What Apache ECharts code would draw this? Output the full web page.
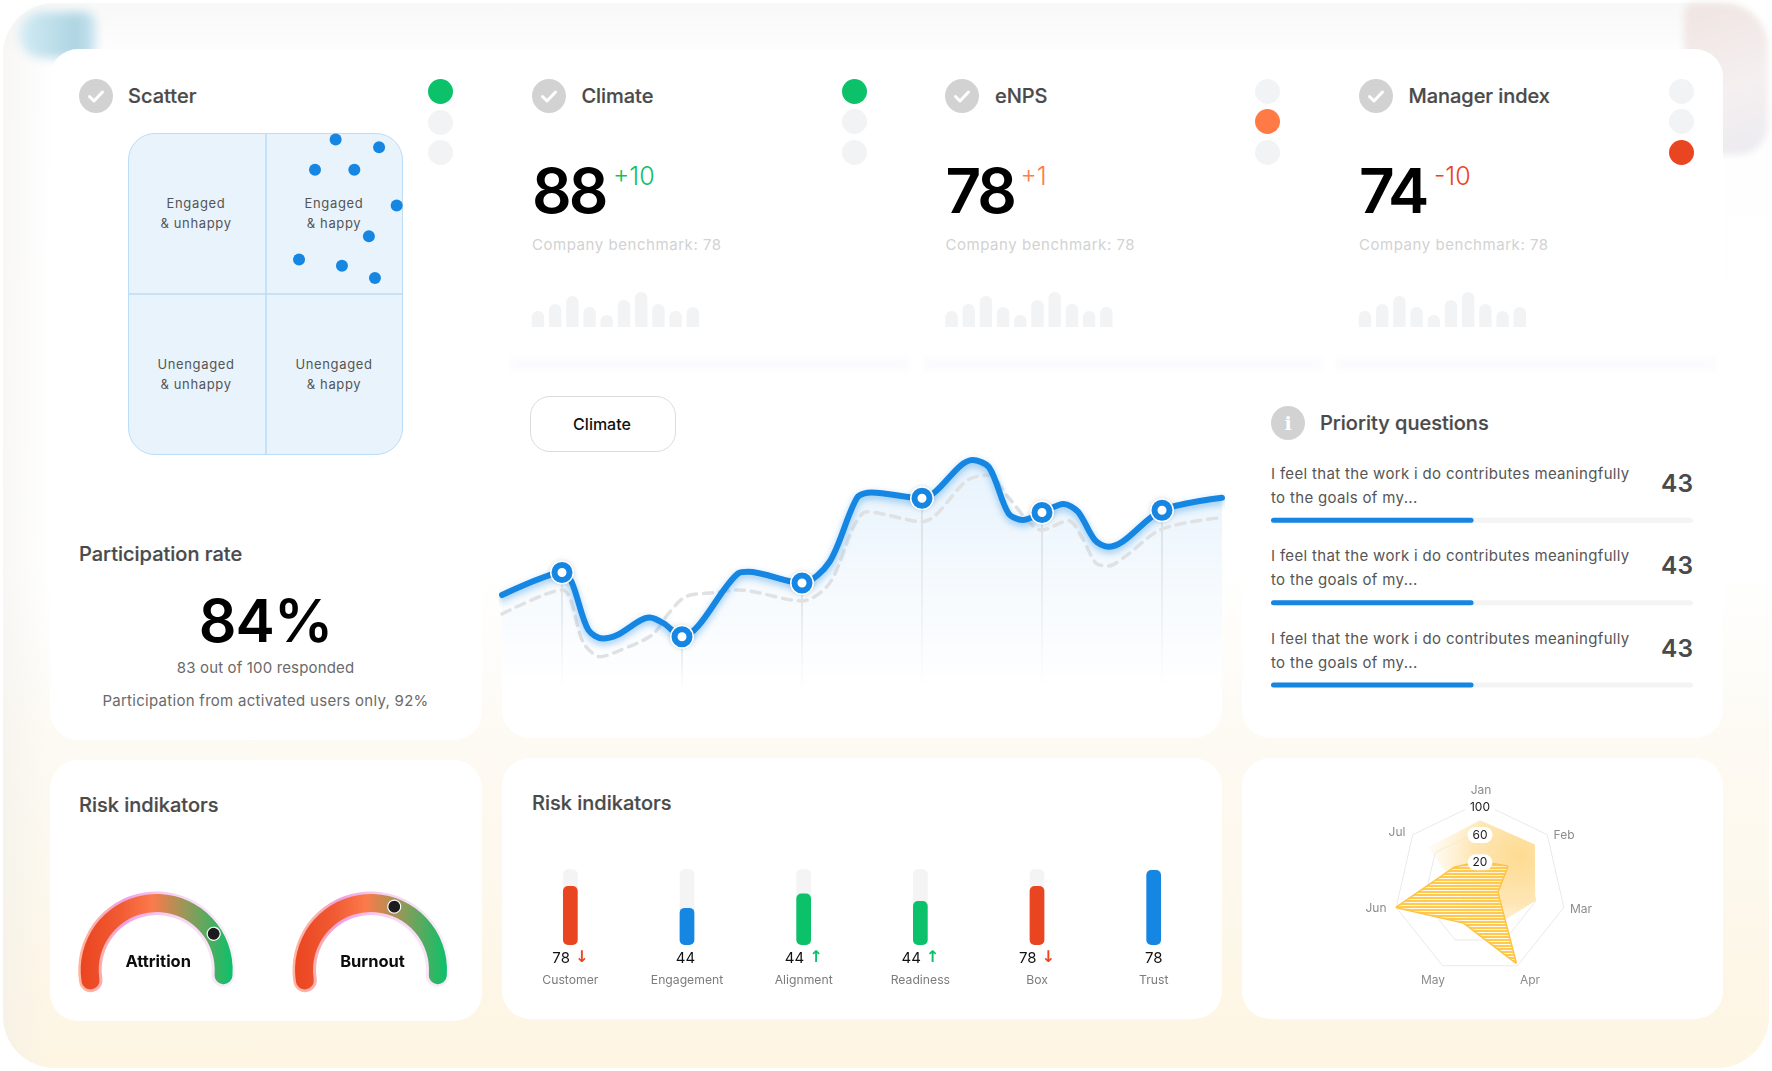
<!DOCTYPE html>
<html>
<head>
<meta charset="utf-8">
<title>Dashboard</title>
<script src="https://cdn.jsdelivr.net/npm/echarts@6/dist/echarts.min.js"></script>
<style>
html, body { margin: 0; padding: 0; background: #fff; }
#page { position: relative; width: 1772px; height: 1071px; overflow: hidden; font-family: Inter, sans-serif; }
#page div { position: absolute; box-sizing: border-box; }
.bg { left: 3px; top: 3px; width: 1766px; height: 1065px; border-radius: 52px; overflow: hidden;
  background:
    linear-gradient(90deg, rgba(238,236,232,0.4) 0, rgba(255,255,255,0) 46px),
    linear-gradient(180deg, #f8f8f8 0, #fefefe 55px, #fff 560px, #fdfaf3 745px, #fdf8ec 900px, #fef5e2 1065px); }
.card { background: #fff; border-radius: 28px; }
.quad { left: 128px; top: 133px; width: 275px; height: 322px; background: #e8f3fc; border: 1px solid #bbddf8; border-radius: 27px; }
.band { top: 358px; width: 400px; height: 12px; background: #fbfbfe; filter: blur(3px); }
.t { white-space: nowrap; line-height: 1; }
.title { font-size: 20px; font-weight: 500; color: #4a4a4a; -webkit-text-stroke: 0.2px #4a4a4a; }
.body { font-size: 15px; color: #5c5c5c; letter-spacing: 0.15px; }
.quadtext { font-size: 13px; color: #555; letter-spacing: 0.65px; }
#chart { left: 0; top: 0; width: 1772px; height: 1071px; }
</style>
</head>
<body>
<div id="page">
  <div class="bg"></div>
  <div style="left:20px;top:12px;width:76px;height:46px;background:linear-gradient(90deg,#d2ebf4,#aed5e2 75%,#cfe6f2);filter:blur(5px);border-radius:22px 10px 10px 22px;"></div>
  <div style="left:1684px;top:3px;width:84px;height:152px;background:linear-gradient(160deg,#efe5e1,#f5eff0 55%,#ecebf0);filter:blur(3px);border-radius:10px 44px 30px 14px;"></div>
  <div class="card" style="left:50px;top:49px;width:1673px;height:360px;"></div>
  <div class="band" style="left:510px;"></div>
  <div class="band" style="left:923px;"></div>
  <div class="band" style="left:1336px;width:380px;"></div>
  <div class="card" style="left:50px;top:400px;width:432px;height:340px;"></div>
  <div class="card" style="left:502px;top:380px;width:720px;height:358px;"></div>
  <div class="card" style="left:1242px;top:380px;width:481px;height:358px;"></div>
  <div class="card" style="left:50px;top:760px;width:432px;height:261px;"></div>
  <div class="card" style="left:502px;top:758px;width:720px;height:261px;"></div>
  <div class="card" style="left:1242px;top:758px;width:481px;height:261px;"></div>
  <div class="quad"></div>
  <div id="labels"></div>
  <div id="chart"></div>
</div>

<script>
// scatter
const scatterX = [75.5, 91.3, 68, 82.3, 97.7, 87.6, 62.2, 77.8, 89.8]
const scatterY = [98, 95.6, 88.6, 88.6, 77.5, 67.9, 60.7, 58.8, 55]
const quadrantNames = [['Engaged', '& unhappy'], ['Engaged', '& happy'], ['Unengaged', '& unhappy'], ['Unengaged', '& happy']]

// top row
const kpiNames = ['Climate', 'eNPS', 'Manager index']
const kpiScores = [88, 78, 74]
const kpiDeltas = ['+10', '+1', '-10']
const kpiColors = ['#0bc16a', '#ff7a45', '#ea4521']
const sparkValues = [16, 23, 31, 20, 12, 27, 35, 23, 16, 20]

// climate line
const climateX = [0, 0.5, 0.72, 0.84, 0.96, 1.23, 1.35, 1.5, 1.97, 2.05, 2.5, 2.73, 2.96, 3.08, 3.5, 3.92, 4.06, 4.22, 4.34, 4.5, 4.68, 4.8, 4.94, 5.05, 5.17, 5.5, 6]
const climateY = [38, 47, 24, 20.6, 22, 29, 26.6, 21.3, 46.7, 47.3, 42.8, 51.3, 77, 79, 76.7, 92, 89, 70.7, 68, 71, 74.4, 71.3, 60, 57.3, 59.3, 71.9, 76.9]
const benchX = [0, 0.5, 0.68, 0.82, 0.94, 1.25, 1.39, 1.53, 1.77, 1.97, 2.5, 2.73, 2.93, 3.04, 3.5, 3.88, 4.06, 4.22, 4.5, 4.72, 4.83, 4.95, 5.05, 5.19, 5.5, 6]
const benchY = [30.4, 40, 18.7, 13.3, 15, 22, 30.7, 37.3, 39, 40, 35.6, 42.7, 65.3, 71.3, 67.3, 84, 86, 77, 64, 67.7, 61.3, 50.7, 49.6, 53.3, 64.4, 69]
const markerX = [0.5, 1.5, 2.5, 3.5, 4.5, 5.5]
const markerY = [47, 21.3, 42.8, 76.7, 71, 71.9]

// priority questions
const questionText = ['I feel that the work i do contributes meaningfully', 'to the goals of my...']
const questionScores = [43, 43, 43]
const questionFill = [48, 48, 48]

// gauges
const gaugeNames = ['Attrition', 'Burnout']
const gaugeValues = [80.9, 61.6]

// risk bars
const riskNames = ['Customer', 'Engagement', 'Alignment', 'Readiness', 'Box', 'Trust']
const riskBars = [78, 49, 68, 58, 78, 99]
const riskScores = [78, 44, 44, 44, 78, 78]
const riskTrend = ['down', 'none', 'up', 'up', 'down', '']
const riskColors = ['#ea4521', '#1686e3', '#0bc16a', '#0bc16a', '#ea4521', '#1686e3']

// radar, counter clockwise from the top
const radarMonths = ['Jan', 'Jul', 'Jun', 'May', 'Apr', 'Mar', 'Feb']
const radarFill = [75, 72, 8, 26, 36, 59, 78]
const radarHatch = [17, 26, 99, 33, 95, 5, 29]
const radarTicks = [100, 60, 20]
// where the month names sit, same order as radarMonths
const radarNamePos = [[1481, 790], [1397, 832], [1376, 908], [1433, 980], [1530, 980], [1581, 909], [1564, 835]]

const BLUE = '#1686e3'
const labels = document.getElementById('labels')

function addText(str, x, y, cls, css, center) {
  let el = document.createElement('div')
  el.className = 't ' + cls
  el.textContent = str
  el.style.cssText = `left:${x}px;top:${y}px;transform:translate(${center ? '-50%' : '0'},-50%);${css || ''}`
  labels.appendChild(el)
}

function addDot(x, y, color) {
  let el = document.createElement('div')
  el.style.cssText = `left:${x - 12.5}px;top:${y - 12.5}px;width:25px;height:25px;border-radius:50%;background:${color};`
  labels.appendChild(el)
}

function addIcon(x, y, inner) {
  let el = document.createElement('div')
  el.style.cssText = `left:${x - 17}px;top:${y - 17}px;width:34px;height:34px;border-radius:50%;background:#d2d2d2;`
  el.innerHTML = inner
  labels.appendChild(el)
}

const checkSvg = '<svg width="34" height="34" style="position:absolute;left:0;top:0"><path d="M10.5 17.5l4.5 4.5 8.5-9" fill="none" stroke="#fff" stroke-width="3" stroke-linecap="round" stroke-linejoin="round"/></svg>'

// scatter header
addIcon(96, 96, checkSvg)
addText('Scatter', 128, 96, 'title')
addDot(440, 91, '#0bc16a')
addDot(440, 122, '#f2f3f5')
addDot(440, 152.5, '#f2f3f5')
quadrantNames.forEach((n, i) => {
  let cx = i % 2 ? 334 : 196
  let cy = i < 2 ? 203 : 364
  addText(n[0], cx, cy, 'quadtext', '', true)
  addText(n[1], cx, cy + 20, 'quadtext', '', true)
})

// kpi columns
const deltaGap = [81, 75, 75]
kpiNames.forEach((name, i) => {
  let x = 532 + i * 413.5
  addIcon(x + 16.5, 96, checkSvg)
  addText(name, x + 49.5, 96, 'title', 'letter-spacing:-0.05px;')
  for (let d = 0; d < 3; d++) addDot(x + 322, 91 + d * 30.7, d === i ? kpiColors[i] : '#f2f3f5')
  addText(String(kpiScores[i]), x, 191, '', 'font-size:62px;font-weight:600;color:#000;letter-spacing:-3px;')
  addText(kpiDeltas[i], x + deltaGap[i], 176, '', `font-size:25px;font-weight:300;color:${kpiColors[i]};`)
  addText('Company benchmark: 78', x, 243.5, '', 'font-size:15px;color:#d2d2d2;letter-spacing:0.55px;')
})

// participation
addText('Participation rate', 79, 554, 'title')
addText('84%', 265.5, 620, '', 'font-size:59px;font-weight:600;color:#000;letter-spacing:-1px;', true)
addText('83 out of 100 responded', 265.5, 667, 'body', 'color:#6a6a6a;', true)
addText('Participation from activated users only, 92%', 265.5, 700, 'body', 'color:#6a6a6a;letter-spacing:0.28px;', true)

// climate button
let btn = document.createElement('div')
btn.style.cssText = 'left:530px;top:396px;width:146px;height:56px;border:1px solid #dcdcdc;border-radius:20px;background:#fff;'
labels.appendChild(btn)
addText('Climate', 602, 424, '', 'font-size:16px;font-weight:500;color:#111;', true)

// priority questions
addIcon(1288, 423, '<span style="position:absolute;left:0;top:0;width:34px;line-height:34px;text-align:center;color:#fff;font:700 19px/34px \'DejaVu Serif\',serif;">i</span>')
addText('Priority questions', 1320, 423, 'title')
questionScores.forEach((s, i) => {
  let dy = i * 82.4
  addText(questionText[0], 1271, 473 + dy, 'body', 'color:#565656;letter-spacing:0.33px;')
  addText(questionText[1], 1271, 497 + dy, 'body', 'color:#565656;letter-spacing:0.33px;')
  addText(String(s), 1693, 483 + dy, '', 'font-size:24.5px;font-weight:600;color:#4a4a4a;transform:translate(-100%,-50%);')
})

addText('Risk indikators', 79, 805, 'title')
addText('Risk indikators', 532, 803, 'title')

// bars of the three kpi columns share one look
let sparkGrids = kpiNames.map((n, i) => ({ left: 529.4 + i * 413.5, top: 291, width: 172, height: 36 }))
let sparkX = kpiNames.map((n, i) => ({ type: 'category', gridIndex: i, data: sparkValues.map((v, k) => k), show: false }))
let sparkY = kpiNames.map((n, i) => ({ type: 'value', gridIndex: i, min: 0, max: 36, show: false }))
let sparkSeries = kpiNames.map((n, i) => ({
  type: 'bar', xAxisIndex: i, yAxisIndex: i, barWidth: 12.4, data: sparkValues, silent: true,
  itemStyle: { color: '#f2f3f5', borderRadius: [6, 6, 0, 0] }
}))

// stripes of the radar area
let stripe = document.createElement('canvas')
stripe.width = 6
stripe.height = 3
let sc = stripe.getContext('2d')
sc.fillStyle = 'rgba(255,248,228,0.7)'
sc.fillRect(0, 0, 6, 3)
sc.fillStyle = '#ffc94f'
sc.fillRect(0, 0, 6, 2)

const grids = [
  ...sparkGrids,
  { left: 128, top: 133, width: 275, height: 322 },        // 3 scatter
  { left: 502, top: 440, width: 720, height: 250 },        // 4 climate
  { left: 1271, top: 479.1, width: 422, height: 247.2 },   // 5 questions
  { left: 512, top: 869.3, width: 700, height: 75.7 }      // 6 risk
]

const arrowRich = { v: { fontFamily: 'Inter', fontSize: 15, color: '#111', lineHeight: 24 },
  down: { fontFamily: 'DejaVu Sans', fontSize: 16, fontWeight: 'bold', color: '#ea4521', padding: [0, 0, 0, 5] },
  up: { fontFamily: 'DejaVu Sans', fontSize: 16, fontWeight: 'bold', color: '#0bc16a', padding: [0, 0, 0, 5] },
  none: { fontFamily: 'DejaVu Sans', fontSize: 9, color: 'rgba(0,0,0,0)' },
  n: { fontFamily: 'Inter', fontSize: 12.2, color: '#7c7c7c', lineHeight: 18, padding: [2, 0, 0, 0] } }

function gaugeSeries(i) {
  let center = [156.7 + i * 214.3, 970]
  return [
    {
      type: 'gauge', center, radius: 78.5, startAngle: 189, endAngle: -4.5, min: 0, max: 100, silent: true,
      axisLine: { roundCap: true, lineStyle: { width: 23.5, color: [[1, new echarts.graphic.LinearGradient(0, 0, 1, 0, [
        { offset: 0, color: '#ffb59c' }, { offset: 0.18, color: '#f8aeb8' }, { offset: 0.3, color: '#f0a0e4' }, { offset: 0.55, color: '#f7cdf0' }, { offset: 1, color: '#faf0fb' }
      ])]] } },
      axisTick: { show: false }, splitLine: { show: false }, axisLabel: { show: false },
      pointer: { show: false }, title: { show: false }, detail: { show: false }, data: [{ value: 0 }]
    },
    {
      type: 'gauge', center, radius: 76, startAngle: 189, endAngle: -4.5, min: 0, max: 100, silent: true,
      axisLine: { roundCap: true, lineStyle: { width: 18, color: [[1, new echarts.graphic.LinearGradient(0, 0, 1, 0, [
        { offset: 0, color: '#ea4521' }, { offset: 0.25, color: '#f05a32' }, { offset: 0.47, color: '#fb7a4b' }, { offset: 1, color: '#0bc16a' }
      ])]] } },
      axisTick: { show: false }, splitLine: { show: false }, axisLabel: { show: false },
      pointer: { icon: 'circle', length: 13, width: 13, offsetCenter: [0, -61], itemStyle: { color: '#1c1c1e', borderColor: '#fff', borderWidth: 1.2 } },
      anchor: { show: false },
      title: { offsetCenter: [1.5, -8], fontFamily: 'Inter', fontSize: 16.5, fontWeight: 700, color: '#0c0c0c' },
      detail: { show: false },
      data: [{ value: gaugeValues[i], name: gaugeNames[i] }]
    }
  ]
}

const tickLabels = radarTicks.map((t, i) => ({
  type: 'text', z: 100, x: 1480, y: 807.7 + i * 27.3,
  style: { text: String(t), align: 'center', verticalAlign: 'middle', fontFamily: 'Inter', fontSize: 12, fill: '#222',
    backgroundColor: '#fff', padding: [2, 5, 2, 5], borderRadius: 8 }
}))
const monthLabels = radarMonths.map((m, i) => ({
  type: 'text', z: 100, x: radarNamePos[i][0], y: radarNamePos[i][1],
  style: { text: m, align: 'center', verticalAlign: 'middle', fontFamily: 'Inter', fontSize: 12, fill: '#8c8c8c' }
}))

const option = {
  animation: false,
  grid: grids,
  xAxis: [
    ...sparkX,
    { type: 'value', gridIndex: 3, min: 0, max: 100, interval: 50, axisLine: { show: false }, axisTick: { show: false }, axisLabel: { show: false },
      splitLine: { show: true, showMinLine: false, showMaxLine: false, lineStyle: { color: '#bbddf8', width: 1.5 } } },
    { type: 'value', gridIndex: 4, min: 0, max: 6, show: false, splitLine: { show: false } },
    { type: 'value', gridIndex: 5, min: 0, max: 100, show: false },
    { type: 'category', gridIndex: 6, data: riskNames, axisLine: { show: false }, axisTick: { show: false },
      axisLabel: { margin: 1, interval: 0, rich: arrowRich, formatter: (name, idx) => {
        let tr = riskTrend[idx]
        return `{v|${riskScores[idx]}}${tr ? `{${tr}|${tr === 'up' ? '↑' : tr === 'down' ? '↓' : '-'}}` : ''}\n{n|${name}}`
      } } }
  ],
  yAxis: [
    ...sparkY,
    { type: 'value', gridIndex: 3, min: 0, max: 100, interval: 50, axisLine: { show: false }, axisTick: { show: false }, axisLabel: { show: false },
      splitLine: { show: true, showMinLine: false, showMaxLine: false, lineStyle: { color: '#bbddf8', width: 1.5 } } },
    { type: 'value', gridIndex: 4, min: 0, max: 100, show: false, splitLine: { show: false } },
    { type: 'category', gridIndex: 5, inverse: true, data: ['q1', 'q2', 'q3'], show: false },
    { type: 'value', gridIndex: 6, min: 0, max: 100, show: false }
  ],
  radar: {
    center: [1480, 888.3], radius: 86, startAngle: 90, splitNumber: 3,
    indicator: radarMonths.map(m => ({ name: m, min: -20, max: 100 })),
    axisName: { show: false },
    axisLine: { show: false }, axisTick: { show: false },
    splitLine: { lineStyle: { color: '#e9e9e9', width: 1 } }, splitArea: { show: false }
  },
  graphic: [...tickLabels, ...monthLabels],
  series: [
    ...sparkSeries,
    { type: 'scatter', xAxisIndex: 3, yAxisIndex: 3, symbolSize: 12, clip: false, silent: true,
      data: scatterX.map((x, i) => [x, scatterY[i]]), itemStyle: { color: BLUE, opacity: 1 } },
    // area under the climate line
    { type: 'line', xAxisIndex: 4, yAxisIndex: 4, smooth: 0.3, symbol: 'none', silent: true, z: 1, lineStyle: { width: 0 },
      data: climateX.map((x, i) => [x, climateY[i]]),
      areaStyle: { color: new echarts.graphic.LinearGradient(0, 0, 0, 1, [
        { offset: 0, color: 'rgba(22,134,227,0.15)' }, { offset: 0.55, color: 'rgba(22,134,227,0.06)' }, { offset: 1, color: 'rgba(22,134,227,0)' }
      ]) } },
    { type: 'custom', xAxisIndex: 4, yAxisIndex: 4, z: 2, silent: true, data: markerX.map((x, i) => [x, markerY[i]]),
      renderItem: (params, api) => {
        let a = api.coord([api.value(0), api.value(1)])
        let b = api.coord([api.value(0), 0])
        return { type: 'rect', shape: { x: a[0] - 0.5, y: a[1], width: 1, height: b[1] - a[1] },
          style: { fill: new echarts.graphic.LinearGradient(0, 0, 0, 1, [{ offset: 0, color: '#c4c8cc' }, { offset: 1, color: 'rgba(210,214,218,0)' }]) } }
      } },
    { type: 'line', xAxisIndex: 4, yAxisIndex: 4, smooth: 0.3, symbol: 'none', silent: true, z: 3, clip: false,
      data: benchX.map((x, i) => [x, benchY[i]]),
      lineStyle: { color: '#dfe1e3', width: 3.5, type: [9, 7], cap: 'round' } },
    { type: 'line', xAxisIndex: 4, yAxisIndex: 4, smooth: 0.3, symbol: 'none', silent: true, z: 4, clip: false,
      data: climateX.map((x, i) => [x, climateY[i]]),
      lineStyle: { color: BLUE, width: 6, cap: 'round', shadowColor: 'rgba(22,134,227,0.45)', shadowBlur: 7, shadowOffsetY: 3 } },
    { type: 'scatter', xAxisIndex: 4, yAxisIndex: 4, symbolSize: 24, silent: true, z: 5, clip: false,
      data: markerX.map((x, i) => [x, markerY[i]]),
      itemStyle: { color: '#fff', opacity: 1, shadowColor: 'rgba(0,0,0,0.15)', shadowBlur: 4 } },
    { type: 'scatter', xAxisIndex: 4, yAxisIndex: 4, symbolSize: 15, silent: true, z: 6, clip: false,
      data: markerX.map((x, i) => [x, markerY[i]]),
      itemStyle: { color: '#fff', opacity: 1, borderColor: BLUE, borderWidth: 6 } },
    // priority bars
    { type: 'bar', xAxisIndex: 5, yAxisIndex: 5, barWidth: 5, barGap: '-100%', silent: true,
      data: questionFill.map(() => 100), itemStyle: { color: '#f4f4f4', borderRadius: 2.5 } },
    { type: 'bar', xAxisIndex: 5, yAxisIndex: 5, barWidth: 5, barGap: '-100%', silent: true,
      data: questionFill, itemStyle: { color: BLUE, borderRadius: 2.5 } },
    // risk bars
    { type: 'bar', xAxisIndex: 6, yAxisIndex: 6, barWidth: 14.7, barGap: '-100%', silent: true,
      data: riskBars.map(() => 100), itemStyle: { color: '#f4f4f4', borderRadius: 5 } },
    { type: 'bar', xAxisIndex: 6, yAxisIndex: 6, barWidth: 14.7, barGap: '-100%', silent: true,
      data: riskBars.map((v, i) => ({ value: v, itemStyle: { color: riskColors[i] } })), itemStyle: { borderRadius: 5 } },
    ...gaugeSeries(0),
    ...gaugeSeries(1),
    // radar
    { type: 'radar', silent: true, symbol: 'none', z: 2, lineStyle: { width: 0 },
      data: [{ value: radarFill }],
      areaStyle: { opacity: 1, color: new echarts.graphic.RadialGradient(0.85, 0.35, 0.9, [
        { offset: 0, color: '#fddb92' }, { offset: 0.5, color: '#fee6b4' }, { offset: 1, color: 'rgba(255,240,210,0.15)' }
      ]) } },
    { type: 'radar', silent: true, symbol: 'none', z: 3, lineStyle: { color: '#ffc23d', width: 2.5 },
      data: [{ value: radarHatch }],
      areaStyle: { opacity: 1, color: { image: stripe, repeat: 'repeat' } } }
  ]
}

let mycharts = echarts.init(document.getElementById('chart'))
mycharts.setOption(option)
</script>
</body>
</html>
